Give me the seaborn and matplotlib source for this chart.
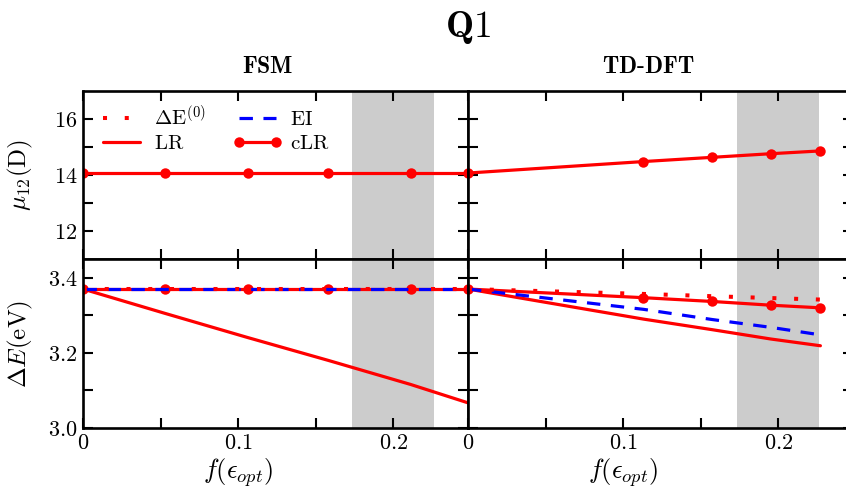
import numpy as np
import pandas as pd
import seaborn as sns
import matplotlib
matplotlib.use("Agg")
import matplotlib.pyplot as plt
from matplotlib.lines import Line2D

# ---------------- data ----------------
f_fsm = [0.0, 0.053, 0.106, 0.158, 0.211, 0.248]
mu_fsm_clr = [14.07, 14.07, 14.07, 14.07, 14.07, 14.07]
de0_fsm = [3.37, 3.37, 3.37, 3.37, 3.37, 3.37]
ei_fsm = [3.37, 3.37, 3.37, 3.37, 3.37, 3.37]
lr_fsm = [3.37, 3.305, 3.241, 3.180, 3.116, 3.067]
clr_fsm = [3.37, 3.37, 3.37, 3.37, 3.37, 3.37]

f_td = [0.0, 0.113, 0.157, 0.195, 0.227]
mu_td_clr = [14.07, 14.48, 14.63, 14.76, 14.86]
de0_td = [3.37, 3.357, 3.351, 3.346, 3.342]
ei_td = [3.37, 3.316, 3.289, 3.268, 3.248]
lr_td = [3.37, 3.290, 3.262, 3.237, 3.219]
clr_td = [3.37, 3.347, 3.337, 3.327, 3.320]

band = (0.173, 0.226)
panel_titles = ["FSM", "TD-DFT"]
x_ticks = [0.0, 0.05, 0.1, 0.15, 0.2]
x_ticklabels = ["0", "", "0.1", "", "0.2"]
mu_ticks = [12, 13, 14, 15, 16]
mu_ticklabels = ["12", "", "14", "", "16"]
de_ticks = [3.0, 3.1, 3.2, 3.3, 3.4]
de_ticklabels = ["3.0", "", "3.2", "", "3.4"]

# ---------------- style ----------------
sns.set_theme(style="ticks")
plt.rcParams["mathtext.fontset"] = "cm"
plt.rcParams["font.family"] = ["cmr10", "DejaVu Serif"]
plt.rcParams["axes.unicode_minus"] = False
plt.rcParams["text.color"] = "black"
plt.rcParams["axes.labelcolor"] = "black"
plt.rcParams["xtick.color"] = "black"
plt.rcParams["ytick.color"] = "black"

RED = "#ff0000"
BLUE = "#0000ff"
LW = 2.3
MS = 7.5

W, H = 846, 491
fig = plt.figure(figsize=(W / 100, H / 100), dpi=100)

def frac_x(px):
    return px / W

def frac_y(px):
    return 1 - px / H

axL0, axR0, axW = 83, 468, 385
top_t, mid, bot_b = 91, 259, 428

ax_tl = fig.add_axes([frac_x(axL0), frac_y(mid), axW / W, (mid - top_t) / H])
ax_tr = fig.add_axes([frac_x(axR0), frac_y(mid), axW / W, (mid - top_t) / H])
ax_bl = fig.add_axes([frac_x(axL0), frac_y(bot_b), axW / W, (bot_b - mid) / H])
ax_br = fig.add_axes([frac_x(axR0), frac_y(bot_b), axW / W, (bot_b - mid) / H])

DOT = (1, 4.4)
DASH = (4.2, 3.3)

def draw(ax, x, y, color, dashes=None, marker=None):
    df = pd.DataFrame({"x": x, "y": y})
    sns.lineplot(data=df, x="x", y="y", ax=ax, color=color, linewidth=LW,
                 marker=marker, markersize=MS if marker else 0,
                 markeredgewidth=0, sort=False, estimator=None)
    ln = ax.lines[-1]
    if dashes is not None:
        ln.set_dashes(dashes)
        ln.set_linewidth(LW + 0.6 if dashes == DOT else LW)
    return ln

# top panels
draw(ax_tl, f_fsm, mu_fsm_clr, RED, marker="o")
draw(ax_tr, f_td, mu_td_clr, RED, marker="o")

# bottom panels
for ax, x, lr, clr, ei, de0 in [(ax_bl, f_fsm, lr_fsm, clr_fsm, ei_fsm, de0_fsm),
                                 (ax_br, f_td, lr_td, clr_td, ei_td, de0_td)]:
    draw(ax, x, lr, RED)
    draw(ax, x, clr, RED, marker="o")
    draw(ax, x, ei, BLUE, dashes=DASH)
    draw(ax, x, de0, RED, dashes=DOT)

for ax in [ax_tl, ax_tr, ax_bl, ax_br]:
    ax.axvspan(band[0], band[1], color="#cccccc", lw=0, zorder=0)
    ax.set_xlim(0, 0.248)
    ax.set_xticks(x_ticks)
    ax.tick_params(direction="in", top=True, right=True, length=7, width=1.5,
                   labelsize=16, pad=4, colors="black")
    for s in ax.spines.values():
        s.set_linewidth(1.9)
        s.set_color("black")
    ax.set_xlabel("")
    ax.set_ylabel("")
    ax.set_facecolor("white")

for ax in [ax_tl, ax_tr]:
    ax.set_ylim(11, 17)
    ax.set_yticks(mu_ticks)
    ax.set_xticklabels([""] * len(x_ticks))
for ax in [ax_bl, ax_br]:
    ax.set_ylim(3.0, 3.45)
    ax.set_yticks(de_ticks)
    ax.set_xticklabels(["$" + t + "$" if t else "" for t in x_ticklabels])
    ax.set_xlabel(r"$f(\epsilon_{opt})$", fontsize=19, color="black")
    ax.xaxis.set_label_coords(0.1 / 0.248, -0.165)

ax_tl.set_yticklabels(["$" + t + "$" if t else "" for t in mu_ticklabels])
ax_bl.set_yticklabels(["$" + t + "$" if t else "" for t in de_ticklabels])
ax_tr.set_yticklabels([""] * len(mu_ticks))
ax_br.set_yticklabels([""] * len(de_ticks))

ax_tl.set_ylabel(r"$\mu_{12}\mathrm{(D)}$", fontsize=18, color="black")
ax_bl.set_ylabel(r"$\Delta E\mathrm{(eV)}$", fontsize=18, color="black")
ax_tl.yaxis.set_label_coords(-0.125, 0.5)
ax_bl.yaxis.set_label_coords(-0.125, 0.5)

# legend
handles = [
    Line2D([], [], color=RED, lw=LW + 0.6, dashes=DOT),
    Line2D([], [], color=RED, lw=LW),
    Line2D([], [], color=BLUE, lw=LW, dashes=DASH),
    Line2D([], [], color=RED, lw=LW, marker="o", markersize=MS, markeredgewidth=0),
]
labels = [r"$\Delta\mathrm{E}^{(0)}$", r"$\mathrm{LR}$", r"$\mathrm{EI}$", r"$\mathrm{cLR}$"]
leg = ax_tl.legend(handles, labels, loc="upper left", ncol=2, frameon=False,
                   fontsize=15, numpoints=2, handlelength=2.4, handletextpad=0.35,
                   columnspacing=1.3, labelspacing=0.25, borderaxespad=0.25,
                   bbox_to_anchor=(0.0, 1.0))
for t in leg.get_texts():
    t.set_color("black")

# titles
fig.text(468 / W, frac_y(28), r"$\mathbf{Q1}$", fontsize=27, ha="center", va="center", color="black")
fig.text(268 / W, frac_y(67), r"$\mathbf{FSM}$", fontsize=17, ha="center", va="center", color="black")
fig.text(648 / W, frac_y(67), r"$\mathbf{TD}$-$\mathbf{DFT}$", fontsize=17, ha="center", va="center", color="black")

fig.savefig("out.png", dpi=100)
